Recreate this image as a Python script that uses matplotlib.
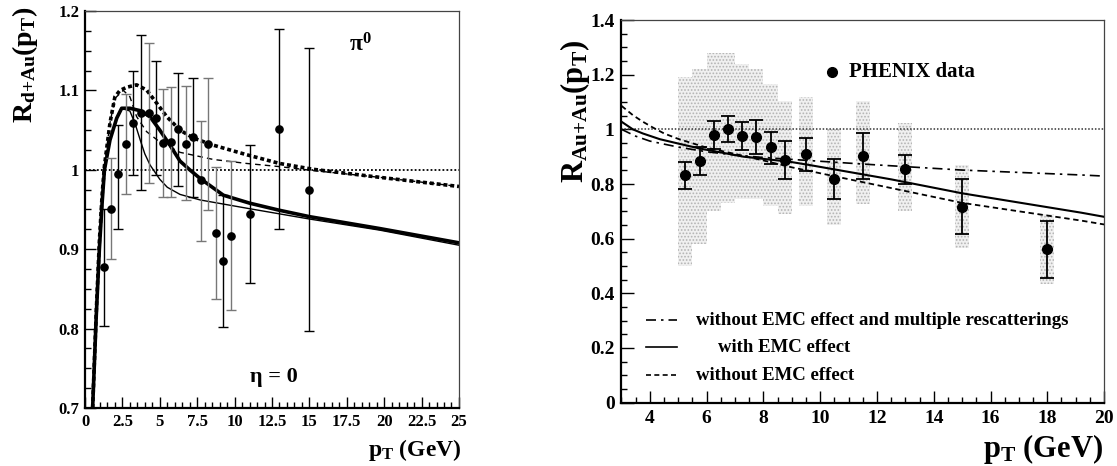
import numpy as np
import matplotlib
matplotlib.use('Agg')
import matplotlib.pyplot as plt
from matplotlib.ticker import MultipleLocator, FuncFormatter

plt.rcParams['font.family'] = ['Liberation Serif', 'DejaVu Serif']
plt.rcParams['font.weight'] = 'bold'
plt.rcParams['mathtext.fontset'] = 'custom'
plt.rcParams['mathtext.rm'] = 'Liberation Serif:bold'
plt.rcParams['mathtext.it'] = 'Liberation Serif:bold'
plt.rcParams['mathtext.bf'] = 'Liberation Serif:bold'
plt.rcParams['hatch.linewidth'] = 0.8

# ---- left panel: d+Au pi0 data ----
dau_pt = [1.25, 1.74, 2.23, 2.74, 3.23, 3.74, 4.25, 4.75, 5.24, 5.75, 6.24, 6.75, 7.24,
          7.75, 8.24, 8.76, 9.25, 9.74, 11.0, 13.0, 15.0]
dau_r = [0.877, 0.951, 0.995, 1.032, 1.059, 1.072, 1.072, 1.065, 1.034, 1.035, 1.051, 1.033, 1.041,
         0.987, 1.032, 0.920, 0.885, 0.917, 0.944, 1.051, 0.975]
dau_lo = [0.803, 0.888, 0.926, 0.969, 0.993, 0.974, 0.983, 0.993, 0.966, 0.966, 0.979, 0.962, 0.966,
          0.910, 0.949, 0.837, 0.802, 0.824, 0.857, 0.925, 0.797]
dau_hi = [0.951, 1.015, 1.056, 1.095, 1.124, 1.170, 1.160, 1.137, 1.102, 1.104, 1.122, 1.106, 1.115,
          1.061, 1.116, 1.003, 0.968, 1.011, 1.031, 1.177, 1.153]
dau_grey = [0, 1, 0, 1, 0, 0, 1, 0, 1, 1, 0, 1, 0, 1, 1, 1, 0, 1, 0, 0, 0]

# thick solid curve
c1_pt = [0.51, 0.75, 0.96, 1.15, 1.3, 1.67, 2.12, 2.45, 3.0, 3.68, 4.34, 5.0, 5.68, 6.35, 7.0,
         7.7, 9.25, 11.0, 13.0, 15.0, 19.7, 25.0]
c1_r = [0.70, 0.815, 0.90, 0.96, 1.0, 1.0375, 1.065, 1.0775, 1.0775, 1.0745, 1.067, 1.05, 1.031,
        1.011, 1.0, 0.989, 0.968, 0.958, 0.949, 0.941, 0.926, 0.908]
# thin solid curve
c2_pt = [0.51, 0.75, 0.96, 1.15, 1.3, 1.67, 2.12, 2.45, 3.0, 3.35, 3.7, 4.0, 4.35, 5.0, 5.5,
         6.35, 7.7, 11.0, 15.0, 19.7, 25.0]
c2_r = [0.70, 0.815, 0.90, 0.96, 1.0, 1.0375, 1.065, 1.0775, 1.074, 1.058, 1.037, 1.02, 1.006,
        0.988, 0.978, 0.969, 0.962, 0.951, 0.938, 0.924, 0.905]
# thick dashed curve
c3_pt = [0.51, 0.75, 0.96, 1.15, 1.3, 1.67, 2.0, 2.34, 2.8, 3.45, 4.12, 4.79, 5.46, 6.35, 7.24,
         8.58, 10.8, 13.0, 15.26, 19.7, 25.0]
c3_r = [0.70, 0.82, 0.91, 0.97, 1.005, 1.059, 1.092, 1.100, 1.104, 1.107, 1.1005, 1.084, 1.067,
        1.05, 1.04, 1.031, 1.019, 1.008, 1.0006, 0.9905, 0.979]
# thin dashed curve
c4_pt = [0.51, 0.75, 0.96, 1.15, 1.3, 1.67, 2.0, 2.56, 3.0, 3.45, 4.12, 5.0, 6.35, 8.58, 10.8,
         13.0, 15.26, 19.7, 25.0]
c4_r = [0.70, 0.82, 0.91, 0.97, 1.005, 1.059, 1.09, 1.10, 1.092, 1.067, 1.048, 1.035, 1.022,
        1.013, 1.008, 1.004, 0.999, 0.9905, 0.979]

# ---- right panel: Au+Au PHENIX data ----
aa_pt = [5.25, 5.75, 6.25, 6.75, 7.25, 7.75, 8.25, 8.75, 9.5, 10.5, 11.5, 13.0, 15.0, 18.0]
aa_r = [0.832, 0.883, 0.978, 1.003, 0.975, 0.972, 0.934, 0.887, 0.910, 0.818, 0.903, 0.854, 0.717, 0.561]
aa_lo = [0.781, 0.834, 0.927, 0.954, 0.923, 0.911, 0.875, 0.817, 0.848, 0.744, 0.817, 0.801, 0.616, 0.457]
aa_hi = [0.882, 0.936, 1.029, 1.048, 1.027, 1.036, 0.990, 0.956, 0.968, 0.892, 0.985, 0.906, 0.817, 0.666]
sys_lo = [0.50, 0.58, 0.70, 0.73, 0.745, 0.745, 0.72, 0.69, 0.72, 0.65, 0.725, 0.70, 0.565, 0.435]
sys_hi = [1.19, 1.22, 1.28, 1.28, 1.24, 1.22, 1.165, 1.105, 1.12, 1.0, 1.105, 1.025, 0.87, 0.69]

emc_pt = [3.0, 3.4, 3.75, 4.35, 5.0, 5.75, 7.3, 8.95, 9.65, 12.5, 15.0, 19.2, 20.0]
emc_r = [1.028, 1.0, 0.985, 0.964, 0.948, 0.93, 0.90, 0.881, 0.869, 0.817, 0.766, 0.695, 0.680]
noemc_pt = [3.0, 3.4, 3.75, 4.1, 4.5, 5.0, 6.0, 7.0, 8.0, 9.0, 12.0, 15.0, 19.2, 20.0]
noemc_r = [1.086, 1.052, 1.028, 1.007, 0.985, 0.965, 0.933, 0.91, 0.886, 0.861, 0.796, 0.731, 0.666, 0.652]
nomult_pt = [3.0, 3.5, 4.0, 5.0, 6.0, 7.0, 8.0, 9.0, 11.5, 15.0, 19.2, 20.0]
nomult_r = [1.0, 0.975, 0.957, 0.935, 0.918, 0.906, 0.897, 0.89, 0.873, 0.851, 0.833, 0.829]

fig = plt.figure(figsize=(11.17, 4.66), dpi=100)

# ================= left panel =================
ax1 = fig.add_axes([0.0761, 0.1245, 0.3348, 0.8519])
ax1.plot([0, 25], [1, 1], color='black', lw=1.3, dashes=(1, 1.2))
ax1.plot(c1_pt, c1_r, color='black', lw=2.6)
ax1.plot(c2_pt, c2_r, color='black', lw=1.0)
ax1.plot(c3_pt, c3_r, color='black', lw=2.6, dashes=(1.1, 0.8))
ax1.plot(c4_pt, c4_r, color='black', lw=1.0, dashes=(4, 3))

for grey in (0, 1):
    idx = [i for i in range(len(dau_pt)) if dau_grey[i] == grey]
    x = np.array(dau_pt)[idx]
    y = np.array(dau_r)[idx]
    lo = y - np.array(dau_lo)[idx]
    hi = np.array(dau_hi)[idx] - y
    ax1.errorbar(x, y, yerr=[lo, hi], fmt='none', ecolor='#777777' if grey else 'black',
                 elinewidth=1.0, capsize=3.3, capthick=1.0)
ax1.plot(dau_pt, dau_r, 'o', color='black', ms=5.2, zorder=5)

ax1.set_xlim(0, 25)
ax1.set_ylim(0.7, 1.2)
ax1.xaxis.set_major_locator(MultipleLocator(2.5))
ax1.xaxis.set_minor_locator(MultipleLocator(0.5))
ax1.yaxis.set_major_locator(MultipleLocator(0.1))
ax1.yaxis.set_minor_locator(MultipleLocator(0.025))
ax1.xaxis.set_major_formatter(FuncFormatter(lambda v, p: '%g' % v))
ax1.yaxis.set_major_formatter(FuncFormatter(lambda v, p: '%g' % round(v, 3)))
ax1.tick_params(which='both', direction='in', top=False, right=False, labelsize=12, width=1.0)
ax1.tick_params(which='major', length=8, pad=4)
ax1.tick_params(which='minor', length=4)
for s in ('left', 'bottom'):
    ax1.spines[s].set_linewidth(1.6)
for s in ('top', 'right'):
    ax1.spines[s].set_linewidth(0.9)
    ax1.spines[s].set_color('#444444')

ax1.text(18.4, 1.157, r'$\mathrm{\pi^0}$', fontsize=17, ha='center', va='center')
ax1.text(12.6, 0.739, 'η = 0', fontsize=16, ha='center', va='center')
fig.text(0.022, 0.86, r'$\mathrm{R_{d{+}Au}(p_T)}$', rotation=90, fontsize=20,
         ha='center', va='center')
fig.text(0.413, 0.006, r'$\mathrm{p_T}$ (GeV)', fontsize=17, ha='right', va='bottom')

# ================= right panel =================
ax2 = fig.add_axes([0.5564, 0.136, 0.432, 0.821])
ax2.bar(aa_pt, np.array(sys_hi) - np.array(sys_lo), bottom=sys_lo, width=0.5,
        facecolor='#f0f0f0', edgecolor='#b4b4b4', hatch='.....', linewidth=0, zorder=1)
ax2.plot([3, 20], [1, 1], color='#333333', lw=1.1, dashes=(1, 1.2), zorder=2)
ax2.plot(emc_pt, emc_r, color='black', lw=1.5, zorder=3)
ax2.plot(noemc_pt, noemc_r, color='black', lw=1.3, dashes=(3, 2), zorder=3)
ax2.plot(nomult_pt, nomult_r, color='black', lw=1.2, dashes=(6, 3, 1.5, 3), zorder=3)
ax2.errorbar(aa_pt, aa_r, yerr=[np.array(aa_r) - np.array(aa_lo), np.array(aa_hi) - np.array(aa_r)],
             fmt='o', color='black', ms=7, elinewidth=1.3, capsize=5, capthick=1.3, zorder=5)

ax2.set_xlim(3, 20)
ax2.set_ylim(0, 1.4)
ax2.xaxis.set_major_locator(MultipleLocator(2))
ax2.xaxis.set_minor_locator(MultipleLocator(0.5))
ax2.yaxis.set_major_locator(MultipleLocator(0.2))
ax2.yaxis.set_minor_locator(MultipleLocator(0.05))
ax2.xaxis.set_major_formatter(FuncFormatter(lambda v, p: '%g' % v))
ax2.yaxis.set_major_formatter(FuncFormatter(lambda v, p: '%g' % round(v, 3)))
ax2.tick_params(which='both', direction='in', top=False, right=False, labelsize=14, width=1.0)
ax2.tick_params(which='major', length=9, pad=5)
ax2.tick_params(which='minor', length=4.5)
for s in ('left', 'bottom'):
    ax2.spines[s].set_linewidth(1.6)
for s in ('top', 'right'):
    ax2.spines[s].set_linewidth(0.9)
    ax2.spines[s].set_color('#444444')

# legend drawn by hand
ax2.plot([10.4], [1.209], 'o', color='black', ms=7)
ax2.text(11.0, 1.209, 'PHENIX data', fontsize=15, va='center', ha='left')
leg_rows = [(0.302, dict(dashes=(6, 3, 1.5, 3)), 'without EMC effect and multiple rescatterings', 5.63),
            (0.202, dict(), 'with EMC effect', 6.4),
            (0.101, dict(dashes=(3, 2)), 'without EMC effect', 5.63)]
for yy, style, label, tx in leg_rows:
    ax2.plot([3.87, 4.95], [yy, yy], color='black', lw=1.2, **style)
    ax2.text(tx, yy, label, fontsize=13.5, va='center', ha='left')

fig.text(0.515, 0.76, r'$\mathrm{R_{Au{+}Au}(p_T)}$', rotation=90, fontsize=22,
         ha='center', va='center')
fig.text(0.988, 0.0, r'$\mathrm{p_T}$ (GeV)', fontsize=22, ha='right', va='bottom')

fig.savefig('out.png', dpi=100)
